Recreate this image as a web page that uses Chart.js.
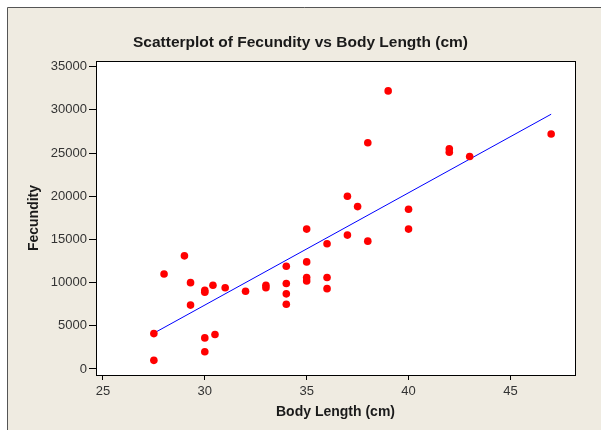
<!DOCTYPE html>
<html>
<head>
<meta charset="utf-8">
<script src="https://cdn.jsdelivr.net/npm/chart.js@4/dist/chart.umd.min.js"></script>
<style>
  html, body { margin: 0; padding: 0; background: #fff; }
  #wrap { width: 601px; height: 430px; }
</style>
</head>
<body>
<div id="wrap"><canvas id="fecundityChart" width="601" height="430"></canvas></div>
<script>
// body length (cm) and fecundity
const bodyLength = [27.5, 27.5, 28, 29, 29.3, 29.3, 30, 30, 30, 30, 30.4, 30.5, 31, 32, 33, 33,
    34, 34, 34, 34, 35, 35, 35, 35, 36, 36, 36, 37, 37, 37.5, 38, 38, 39, 40, 40, 42, 42, 43, 47];
const fecundity = [1000, 4100, 11000, 13100, 10000, 7400, 8900, 9100, 3600, 2000, 9700, 4000, 9400, 9000, 9400, 9700,
    11900, 9900, 8700, 7500, 16200, 12400, 10200, 10600, 14500, 10600, 9300, 20000, 15500, 18800, 26200, 14800, 32200, 18500, 16200, 25100, 25500, 24600, 27200];

// fitted line end points as drawn
const fitX = [27.5, 47];
const fitY = [4150, 29500];

const xTicks = [25, 30, 35, 40, 45];
const yTicks = [0, 5000, 10000, 15000, 20000, 25000, 30000, 35000];

const points = bodyLength.map((x, i) => ({ x: x, y: fecundity[i] }));
const fitLine = fitX.map((x, i) => ({ x: x, y: fitY[i] }));

const frame = {
    id: "frame",
    beforeDraw(chart) {
        const c = chart.ctx;
        const a = chart.chartArea;
        c.save();
        c.fillStyle = "#ffffff";
        c.fillRect(0, 0, chart.width, chart.height);
        c.fillStyle = "#efebe1";
        c.fillRect(8, 8, chart.width - 8, chart.height - 8);
        c.strokeStyle = "#555555";
        c.lineWidth = 1;
        c.beginPath();
        c.moveTo(7.5, chart.height);
        c.lineTo(7.5, 7.5);
        c.lineTo(chart.width, 7.5);
        c.stroke();
        c.fillStyle = "#ffffff";
        c.fillRect(a.left, a.top, a.right - a.left, a.bottom - a.top);
        c.restore();
    },
    afterDraw(chart) {
        const c = chart.ctx;
        const a = chart.chartArea;
        c.save();
        c.strokeStyle = "#000000";
        c.lineWidth = 1;
        c.strokeRect(Math.round(a.left) + 0.5, Math.round(a.top) + 0.5,
            Math.round(a.right - a.left), Math.round(a.bottom - a.top));
        c.restore();
    }
};

new Chart(document.getElementById("fecundityChart"), {
    type: "scatter",
    data: {
        datasets: [
            {
                label: "Fecundity",
                data: points,
                backgroundColor: "#ff0000",
                borderWidth: 0,
                pointRadius: 3.8,
                pointHoverRadius: 3.8
            },
            {
                label: "Fit",
                type: "line",
                data: fitLine,
                borderColor: "#0000ff",
                borderWidth: 1,
                pointRadius: 0,
                fill: false
            }
        ]
    },
    options: {
        responsive: false,
        animation: false,
        layout: { padding: 0 },
        plugins: {
            legend: { display: false },
            tooltip: { enabled: false },
            title: {
                display: true,
                text: "Scatterplot of Fecundity vs Body Length (cm)",
                color: "#1a1a1a",
                font: { family: "Liberation Sans", size: 15.5, weight: "bold" },
                padding: { top: 33, bottom: 9.4 }
            }
        },
        scales: {
            x: {
                type: "linear",
                min: 24.66,
                max: 48.17,
                afterFit(scale) { scale.height = 55; },
                afterBuildTicks(scale) { scale.ticks = xTicks.map(v => ({ value: v })); },
                grid: { drawOnChartArea: false, drawTicks: true, tickLength: 5, tickColor: "#000" },
                border: { display: true, color: "#000" },
                ticks: {
                    color: "#333",
                    padding: 4,
                    font: { family: "Liberation Sans", size: 13 }
                },
                title: {
                    display: true,
                    text: "Body Length (cm)",
                    color: "#1a1a1a",
                    font: { family: "Liberation Sans", size: 14, weight: "bold" },
                    padding: { top: 0, bottom: 9 }
                }
            },
            y: {
                type: "linear",
                min: -695,
                max: 35660,
                afterFit(scale) { scale.width = 96; },
                afterBuildTicks(scale) { scale.ticks = yTicks.map(v => ({ value: v })); },
                grid: { drawOnChartArea: false, drawTicks: true, tickLength: 7, tickColor: "#000" },
                border: { display: true, color: "#000" },
                ticks: {
                    color: "#333",
                    padding: 2,
                    font: { family: "Liberation Sans", size: 13 },
                    callback: v => String(v)
                },
                title: {
                    display: true,
                    text: "Fecundity",
                    color: "#1a1a1a",
                    font: { family: "Liberation Sans", size: 14, weight: "bold" },
                    padding: { top: 26, bottom: 0 }
                }
            },
            // empty right-hand strip so the title centres on the whole page
            yRight: {
                type: "linear",
                position: "right",
                afterFit(scale) { scale.width = 26; },
                grid: { display: false },
                border: { display: false },
                ticks: { display: false }
            }
        }
    },
    plugins: [frame]
});
</script>
</body>
</html>
